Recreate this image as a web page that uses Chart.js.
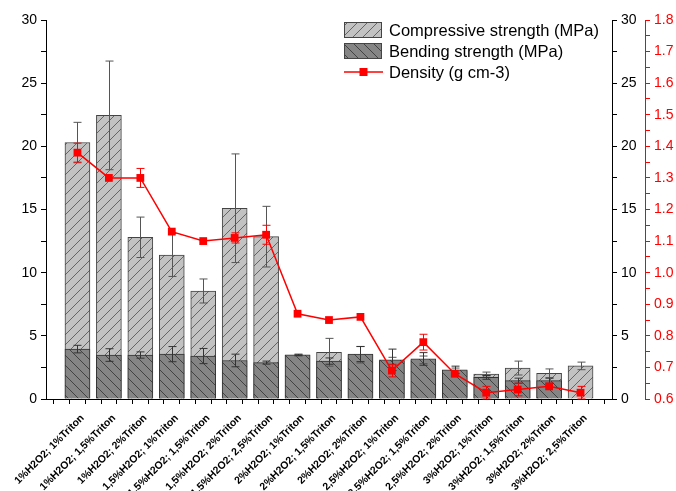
<!DOCTYPE html>
<html>
<head>
<meta charset="utf-8">
<script src="https://cdn.jsdelivr.net/npm/chart.js@4.4.1/dist/chart.umd.min.js"></script>
<style>
  html, body { margin: 0; padding: 0; background: #ffffff; }
  #wrap { width: 676px; height: 491px; }
</style>
</head>
<body>
<div id="wrap"><canvas id="c" width="676" height="491"></canvas></div>
<script>
// Foam mixtures: H2O2 and Triton dosages
const categories = [
  '1%H2O2; 1%Triton', '1%H2O2; 1,5%Triton', '1%H2O2; 2%Triton',
  '1,5%H2O2; 1%Triton', '1,5%H2O2; 1,5%Triton', '1,5%H2O2; 2%Triton', '1,5%H2O2; 2,5%Triton',
  '2%H2O2; 1%Triton', '2%H2O2; 1,5%Triton', '2%H2O2; 2%Triton',
  '2,5%H2O2; 1%Triton', '2,5%H2O2; 1,5%Triton', '2,5%H2O2; 2%Triton',
  '3%H2O2; 1%Triton', '3%H2O2; 1,5%Triton', '3%H2O2; 2%Triton', '3%H2O2; 2,5%Triton'
];
// Compressive strength (MPa) and standard deviation
const compressive    = [20.3, 22.45, 12.8, 11.4, 8.55, 15.1, 12.85, 3.45, 3.7, 3.5, 3.0, 3.1, 2.25, 1.98, 2.45, 2.03, 2.62];
const compressiveErr = [1.6, 4.3, 1.6, 1.7, 0.95, 4.3, 2.4, 0.05, 1.1, 0.65, 0.3, 0.3, 0.2, 0.15, 0.55, 0.35, 0.3];
// Bending strength (MPa) and standard deviation
const bending    = [3.95, 3.48, 3.48, 3.55, 3.4, 3.05, 2.88, 3.5, 3.0, 3.56, 3.1, 3.17, 2.3, 1.71, 1.45, 1.45, null];
const bendingErr = [0.3, 0.5, 0.25, 0.6, 0.6, 0.5, 0.12, 0.05, 0.25, 0.6, 0.85, 0.5, 0.3, 0.15, 0.2, 0.2, null];
// Density (g cm-3) and standard deviation
const density    = [1.38, 1.30, 1.30, 1.13, 1.10, 1.11, 1.12, 0.87, 0.85, 0.86, 0.69, 0.78, 0.68, 0.62, 0.63, 0.64, 0.62];
const densityErr = [0.03, 0, 0.03, 0, 0, 0.016, 0.03, 0, 0, 0, 0.02, 0.025, 0, 0.02, 0.02, 0, 0.02];
// Axis tick labels
const strengthTicks = [0, 5, 10, 15, 20, 25, 30];
const densityTicks  = [0.6, 0.7, 0.8, 0.9, 1.0, 1.1, 1.2, 1.3, 1.4, 1.5, 1.6, 1.7, 1.8];

const FONT = "'Liberation Sans', Arial, sans-serif";
const RED = '#ff0000';

function hatch(bg, fg, forward) {
  const s = 10;
  const cv = document.createElement('canvas');
  cv.width = s; cv.height = s;
  const g = cv.getContext('2d');
  g.fillStyle = bg; g.fillRect(0, 0, s, s);
  g.strokeStyle = fg; g.lineWidth = 0.9;
  g.beginPath();
  if (forward) {
    g.moveTo(-1, s + 1); g.lineTo(s + 1, -1);
    g.moveTo(-1, 1); g.lineTo(1, -1);
    g.moveTo(s - 1, s + 1); g.lineTo(s + 1, s - 1);
  } else {
    g.moveTo(-1, -1); g.lineTo(s + 1, s + 1);
    g.moveTo(s - 1, -1); g.lineTo(s + 1, 1);
    g.moveTo(-1, s - 1); g.lineTo(1, s + 1);
  }
  g.stroke();
  return g.createPattern(cv, 'repeat');
}
const ctx = document.getElementById('c').getContext('2d');
const compFill = hatch('#c2c2c2', '#5a5a5a', true);
const bendFill = hatch('#858585', '#3a3a3a', false);

const toXY = arr => arr.map((v, i) => ({ x: i, y: v }));

function drawErr(chart, yScale, vals, errs, color, cap) {
  const xs = chart.scales.x;
  const c = chart.ctx;
  c.save();
  c.strokeStyle = color; c.lineWidth = 1;
  vals.forEach((v, i) => {
    const e = errs[i];
    if (v == null || !e) return;
    const x = Math.round(xs.getPixelForValue(i)) + 0.5;
    const y1 = yScale.getPixelForValue(v + e);
    const y2 = yScale.getPixelForValue(v - e);
    c.beginPath();
    c.moveTo(x, y1); c.lineTo(x, y2);
    c.moveTo(x - cap, y1); c.lineTo(x + cap, y1);
    c.moveTo(x - cap, y2); c.lineTo(x + cap, y2);
    c.stroke();
  });
  c.restore();
}

const errorBars = {
  id: 'errorBars',
  afterDatasetDraw(chart, args) {
    if (args.index === 1) {
      drawErr(chart, chart.scales.y, compressive, compressiveErr, '#555555', 4);
      drawErr(chart, chart.scales.y, bending, bendingErr, '#333333', 4);
    }
  },
  beforeDatasetDraw(chart, args) {
    if (args.index === 2) {
      drawErr(chart, chart.scales.y3, density, densityErr, RED, 4);
    }
  }
};

const boxLegend = {
  id: 'boxLegend',
  afterDraw(chart) {
    const c = chart.ctx;
    c.save();
    c.font = '16.5px ' + FONT;
    c.textBaseline = 'middle';
    c.fillStyle = '#000';
    const rows = [
      { fill: compFill, text: 'Compressive strength (MPa)', y: 30 },
      { fill: bendFill, text: 'Bending strength (MPa)', y: 51 }
    ];
    rows.forEach(r => {
      c.fillStyle = r.fill;
      c.fillRect(344, r.y - 8, 38, 16);
      c.strokeStyle = '#444'; c.lineWidth = 1;
      c.strokeRect(344.5, r.y - 7.5, 37, 15);
      c.fillStyle = '#000';
      c.fillText(r.text, 389, r.y + 1);
    });
    c.strokeStyle = RED; c.lineWidth = 1.5;
    c.beginPath(); c.moveTo(344, 72); c.lineTo(383, 72); c.stroke();
    c.fillStyle = RED; c.fillRect(359.5, 68, 8, 8);
    c.fillStyle = '#000';
    c.fillText('Density (g cm-3)', 389, 73);
    c.restore();
  }
};

const near = (v, list) => list.some(t => Math.abs(t - v) < 1e-6);

new Chart(ctx, {
  type: 'bar',
  data: {
    datasets: [
      {
        label: 'Compressive strength (MPa)',
        data: toXY(compressive),
        backgroundColor: compFill,
        borderColor: '#444444', borderWidth: 1,
        yAxisID: 'y', grouped: false, order: 2,
        barThickness: 25
      },
      {
        label: 'Bending strength (MPa)',
        data: toXY(bending),
        backgroundColor: bendFill,
        borderColor: '#333333', borderWidth: 1,
        yAxisID: 'y', grouped: false, order: 1,
        barThickness: 25
      },
      {
        type: 'line',
        label: 'Density (g cm-3)',
        data: toXY(density),
        borderColor: RED, backgroundColor: RED, borderWidth: 1.5,
        pointStyle: 'rect', pointRadius: 5.5, pointBorderWidth: 0,
        yAxisID: 'y3', order: 0, tension: 0
      }
    ]
  },
  options: {
    responsive: false,
    animation: false,
    devicePixelRatio: 1,
    layout: { padding: { top: 20, left: 0, right: 0, bottom: 0 } },
    plugins: { legend: { display: false }, tooltip: { enabled: false } },
    scales: {
      x: {
        type: 'linear', min: -1, max: 17, offset: false,
        afterFit: s => { s.height = 92; },
        border: { display: true, color: '#000', width: 1 },
        grid: { drawOnChartArea: false, drawTicks: true, tickLength: 5, tickColor: '#000' },
        ticks: {
          stepSize: 0.5, autoSkip: false, maxRotation: 45, minRotation: 45,
          color: '#000', font: { family: FONT, size: 10.5, weight: 'bold' },
          padding: 8, labelOffset: 5,
          callback: v => (Number.isInteger(v) && v >= 0 && v < categories.length) ? categories[v] : ''
        }
      },
      y: {
        position: 'left', min: 0, max: 30,
        afterFit: s => { s.width = 46; },
        border: { display: true, color: '#000', width: 1 },
        grid: { drawOnChartArea: false, drawTicks: true, tickLength: 5, tickColor: '#000' },
        ticks: {
          stepSize: 2.5, autoSkip: false, color: '#000', padding: 4,
          font: { family: FONT, size: 14 },
          callback: v => near(v, strengthTicks) ? String(v) : ''
        }
      },
      y2: {
        position: 'right', min: 0, max: 30,
        afterFit: s => { s.width = 33; },
        border: { display: true, color: '#000', width: 1 },
        grid: { drawOnChartArea: false, drawTicks: true, tickLength: 5, tickColor: '#000' },
        ticks: {
          stepSize: 2.5, autoSkip: false, color: '#000', padding: 4,
          font: { family: FONT, size: 14 },
          callback: v => near(v, strengthTicks) ? String(v) : ''
        }
      },
      y3: {
        position: 'right', min: 0.6, max: 1.8,
        afterFit: s => { s.width = 31; },
        border: { display: true, color: RED, width: 1 },
        grid: { drawOnChartArea: false, drawTicks: true, tickLength: 5, tickColor: RED },
        ticks: {
          stepSize: 0.05, autoSkip: false, color: RED, padding: 4,
          font: { family: FONT, size: 14 },
          callback: v => near(v, densityTicks) ? v.toFixed(1) : ''
        }
      }
    }
  },
  plugins: [errorBars, boxLegend]
});
</script>
</body>
</html>
